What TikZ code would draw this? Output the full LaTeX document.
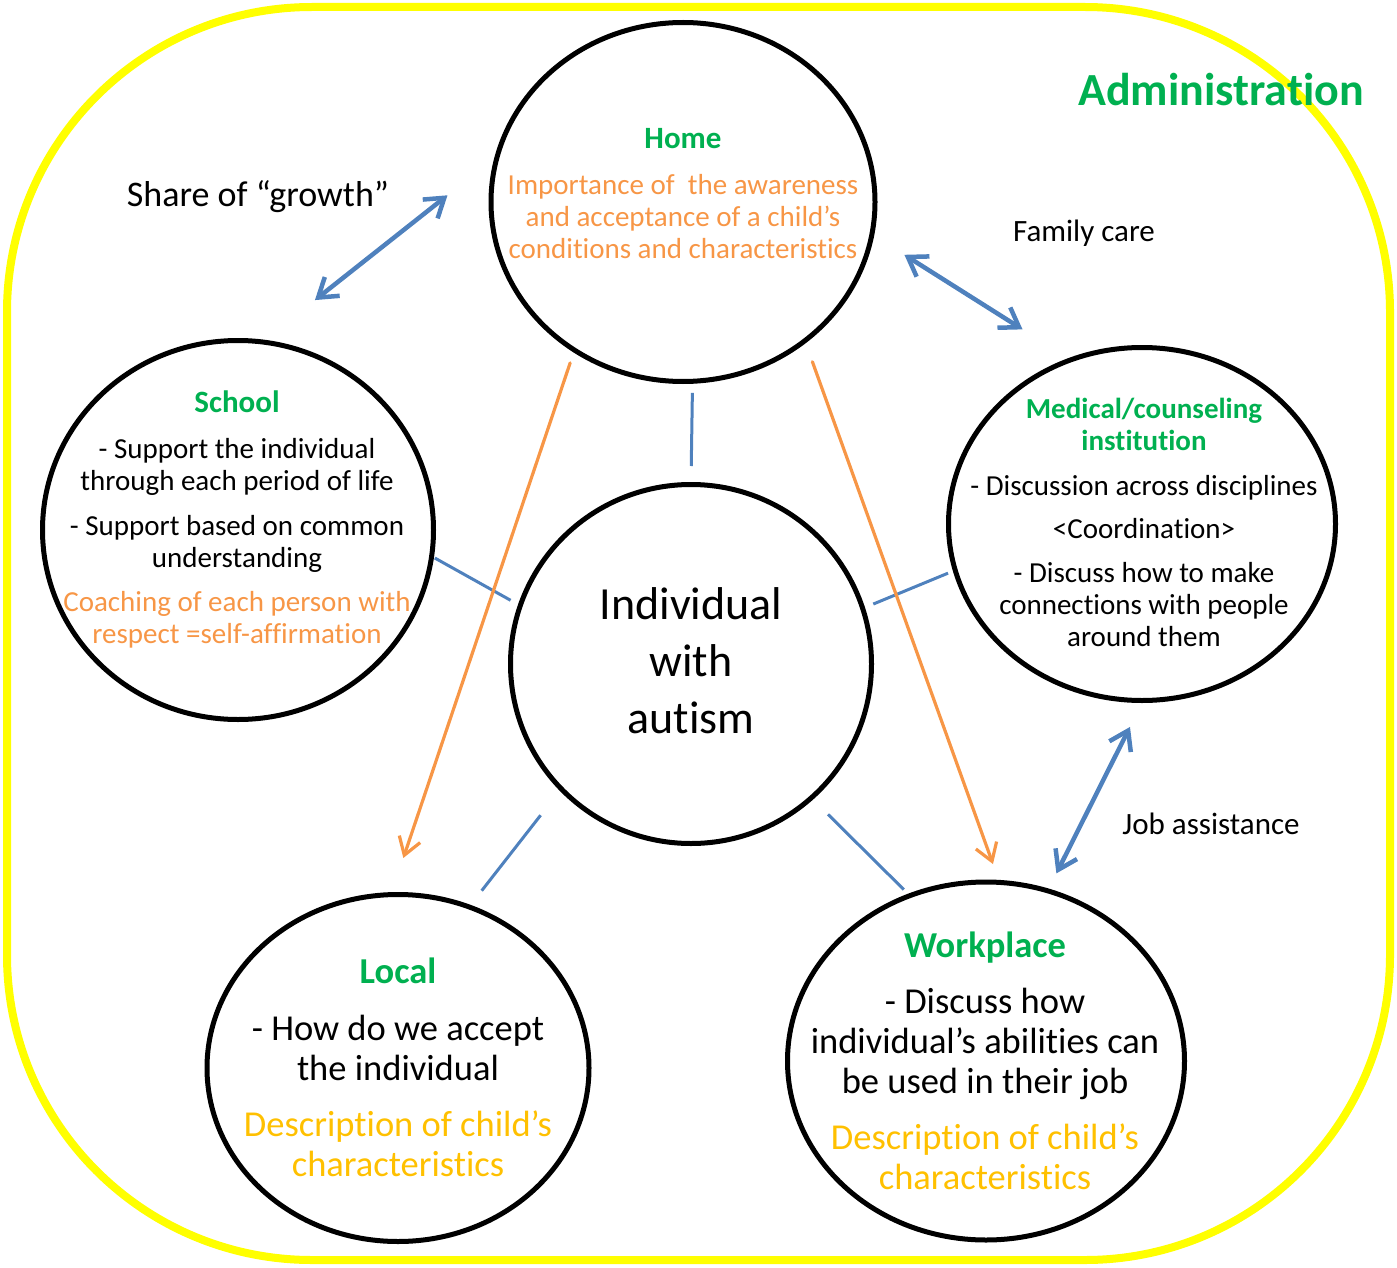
\documentclass[tikz,border=0pt]{standalone}
\usepackage{fontspec}
\setmainfont{Carlito}[Ligatures={NoCommon,NoRequired,NoContextual,NoRare}, Contextuals=NoAlternate]
\usepackage{tikz}
\usetikzlibrary{%
    shapes,%
    arrows.meta,%
    positioning,%
    calc%
}
\definecolor{adminyellow}{HTML}{FFFF00}
\definecolor{titlegreen}{HTML}{00B050}
\definecolor{noteorange}{HTML}{F79646}
\definecolor{notegold}{HTML}{FFC000}
\definecolor{linkblue}{HTML}{4F81BD}
\newcommand{\fsmall}{\fontsize{29}{32}\selectfont}
\newcommand{\flarge}{\fontsize{36.5}{40}\selectfont}
\newcommand{\fcore}{\fontsize{46}{57}\selectfont}
\newcommand{\hd}[2][31]{{\fontsize{#1}{32}\selectfont\color{titlegreen}\bfseries #2}}
\newcommand{\orng}[1]{{\color{noteorange}#1}}
\newcommand{\gld}[1]{{\color{notegold}#1}}
\tikzset{
    frame/.style = {draw = adminyellow, rectangle, line width = 8pt, rounded
    corners = 305pt, minimum width = 1383pt, minimum height = 1253pt},
    ring/.style = {draw, ellipse, line width = 5pt, inner sep = 0pt},
    txt/.style = {align = center, inner sep = 0pt},
    link/.style = {draw = linkblue, line width = 3pt},
    share/.style = {draw = linkblue, line width = 4.5pt, line cap = round,
    {Straight Barb[length=18pt,width=24pt]}-{Straight Barb[length=18pt,width=24pt]}},
    flow/.style = {draw = noteorange, line width = 3.2pt, line cap = round,
    -{Straight Barb[length=17pt,width=22pt]}}
}

\begin{document}
\begin{tikzpicture}[x=1pt, y=-1pt]
    \useasboundingbox (0,0) rectangle (1397,1268);
    \node (admin) [frame] at (698.5,633.5) {};
    \node[font=\fontsize{46}{50}\selectfont\bfseries, text=titlegreen] (adminlbl) at (1221,90) {Administration};

    % the six circles
    \node (home) [ring, minimum width = 384pt, minimum height = 359pt] at (683,202) {};
    \node (school) [ring, minimum width = 391pt, minimum height = 379pt] at (238,530) {};
    \node (core) [ring, minimum width = 361pt, minimum height = 359pt] at (691,664) {};
    \node (medical) [ring, minimum width = 387pt, minimum height = 353pt] at (1142,524) {};
    \node (local) [ring, minimum width = 382pt, minimum height = 347pt] at (398,1068) {};
    \node (work) [ring, minimum width = 397pt, minimum height = 358pt] at (986,1061) {};

    \node[txt, font=\fsmall] (hometext) at (683,194) {\hd{Home}\\[14pt]\orng{Importance of~~the awareness}\\\orng{and acceptance of a child’s}\\\orng{conditions and characteristics}};
    \node[txt, font=\fsmall] (schooltext) at (237,519) {\hd{School}\\[14pt]- Support the individual\\through each period of life\\[13pt]- Support based on common\\understanding\\[12pt]\orng{Coaching of each person with}\\\orng{respect =self-affirmation}};
    \node[txt, font=\fcore] (coretext) at (691,661) {Individual\\with\\autism};
    \node[txt, font=\fsmall] (medicaltext) at (1144,522) {\hd[29]{Medical/counseling}\\\hd[29]{institution}\\[13pt]- Discussion across disciplines\\[11pt]<Coordination>\\[12pt]- Discuss how to make\\connections with people\\around them};
    \node[txt, font=\flarge] (localtext) at (398,1067) {\hd[36.5]{Local}\\[17pt]- How do we accept\\the individual\\[16pt]\gld{Description of child’s}\\\gld{characteristics}};
    \node[txt, font=\flarge] (worktext) at (985,1061) {\hd[36.5]{Workplace}\\[16pt]- Discuss how\\individual’s abilities can\\be used in their job\\[16pt]\gld{Description of child’s}\\\gld{characteristics}};

    \node[font=\fontsize{36}{40}\selectfont] (sharelbl) at (258,197) {Share of “growth”};
    \node[font=\fontsize{31}{34}\selectfont] (carelbl) at (1084,233) {Family care};
    \node[font=\fontsize{31}{34}\selectfont] (joblbl) at (1211,824) {Job assistance};

    \draw[link, shorten <=9pt, shorten >=16pt] (home.-87.8) -- (core.90.3);
    \draw[link, shorten <=1pt, shorten >=8.6pt] (school.-8) -- (core.161.6);
    \draw[link, shorten <=5.3pt, shorten >=9pt] (medical.194) -- (core.18.4);
    \draw[link, shorten <=18pt, shorten >=31pt] (local.66.7) -- (core.-136.1);
    \draw[link, shorten <=6pt, shorten >=21pt] (work.115.5) -- (core.-48.4);

    \draw[flow, shorten <=11pt, shorten >=36pt] (home.-126.4) -- (local.92.4);
    \draw[flow, shorten <=19.7pt, shorten >=16.8pt] (home.-49.2) -- (work.86);

    \draw[share, shorten <=64pt, shorten >=59.5pt] (school.82.4) -- (home.167.3);
    \draw[share, shorten <=35.8pt, shorten >=54pt] (home.-10.75) -- (medical.114.1);
    \draw[share, shorten <=17pt, shorten >=26.8pt] (work.70.4) -- (medical.-90.6);
\end{tikzpicture}
\end{document}
